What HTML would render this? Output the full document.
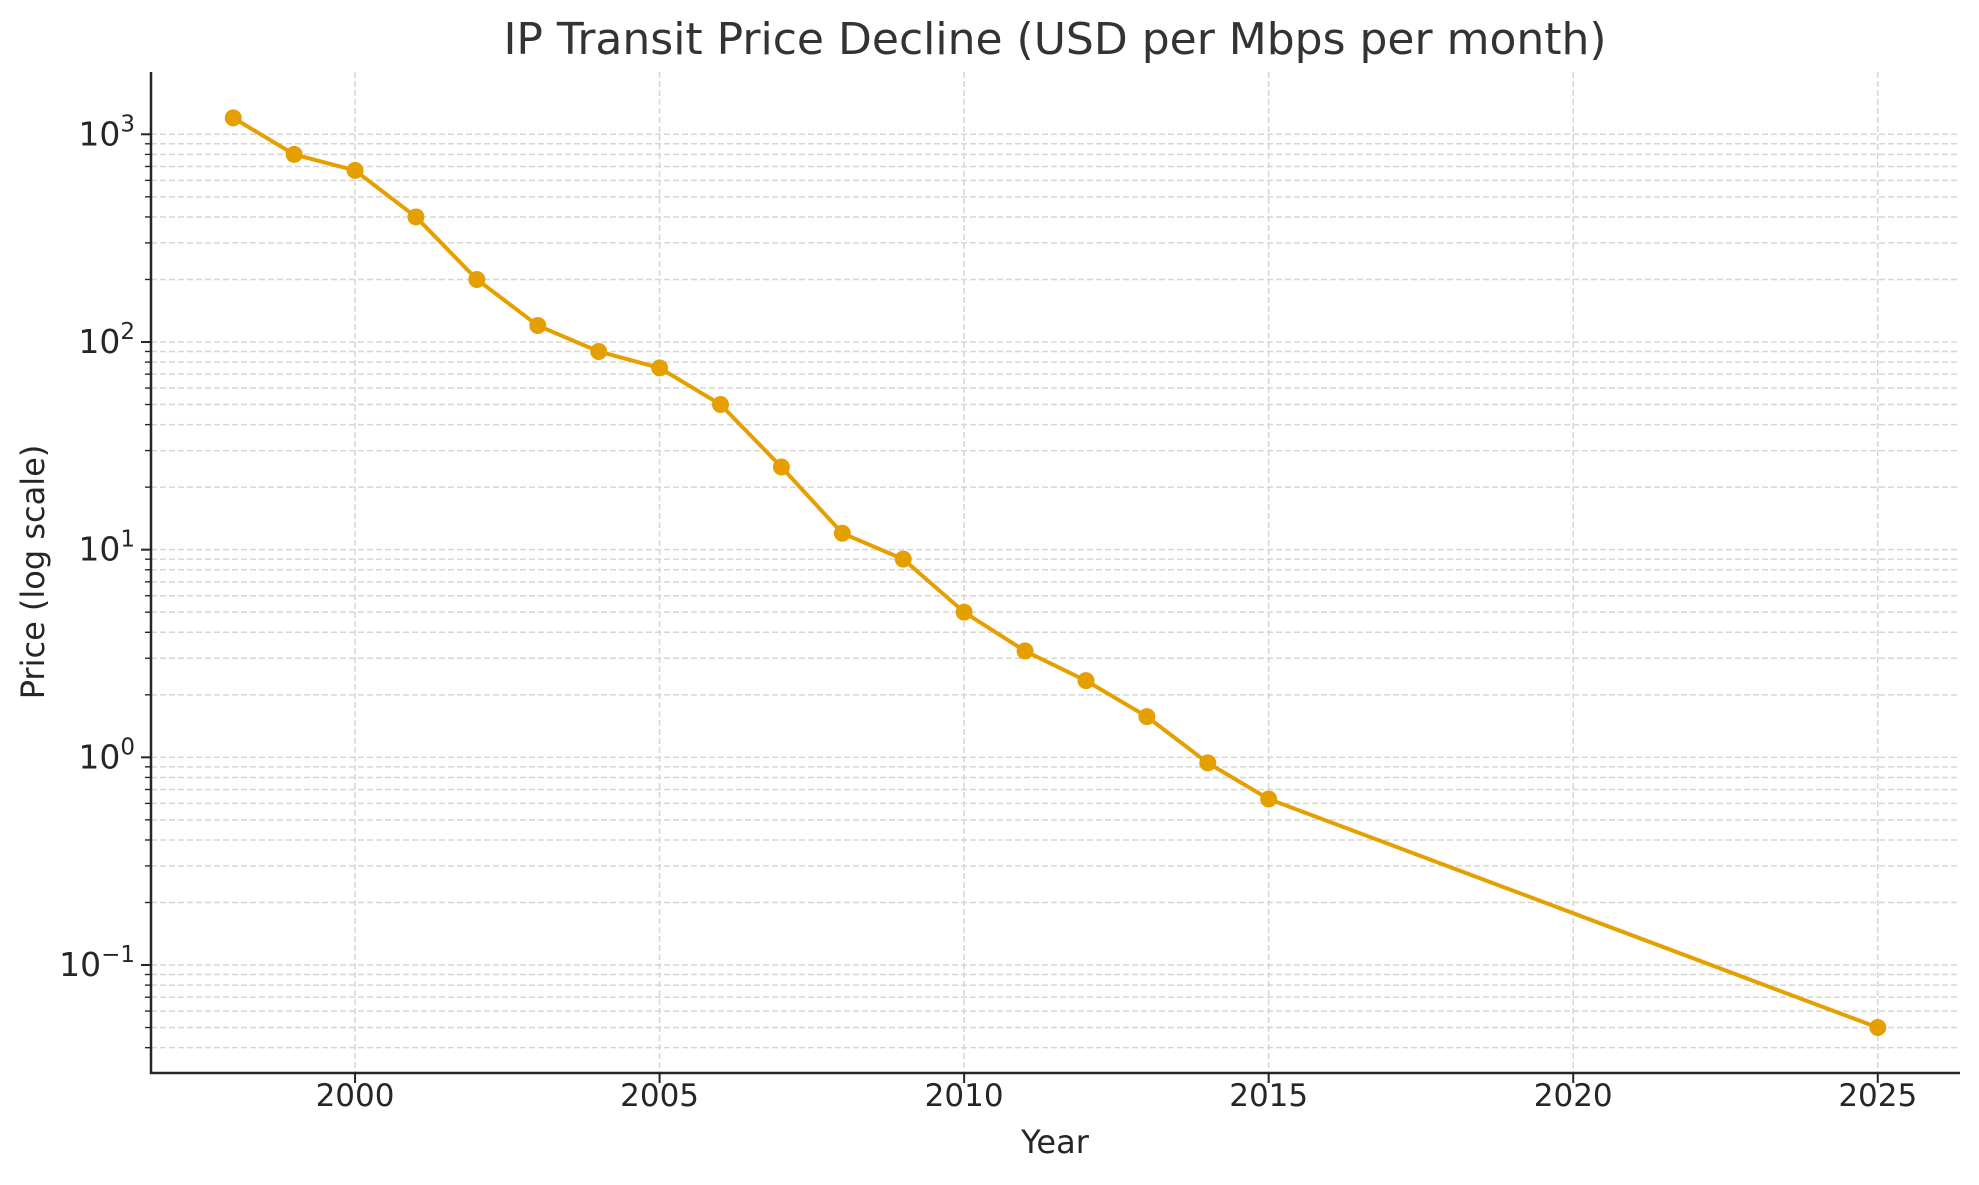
<!DOCTYPE html>
<html><head><meta charset="utf-8"><style>
body{margin:0;background:#fff}
svg text{font-family:"DejaVu Sans","Liberation Sans",sans-serif;fill:#262626}
</style></head><body>
<svg id="chart" width="1979" height="1180" xmlns="http://www.w3.org/2000/svg">
<text x="1055" y="54" font-size="44" text-anchor="middle" style="fill:#333">IP Transit Price Decline (USD per Mbps per month)</text>
<text x="1055" y="1153" font-size="32" text-anchor="middle">Year</text>
<text transform="translate(44,572) rotate(-90)" font-size="32" text-anchor="middle">Price (log scale)</text>
<g id="grid"></g><g id="axes"></g><g id="series"></g>
</svg>
<script>
const years=[1998,1999,2000,2001,2002,2003,2004,2005,2006,2007,2008,2009,2010,2011,2012,2013,2014,2015,2025];
const prices=[1200,800,670,400,200,120,90,75,50,25,12,9,5,3.25,2.34,1.57,0.94,0.63,0.05];
const xTicks=[2000,2005,2010,2015,2020,2025];
const yDecades=[-1,0,1,2,3];
const L=151,R=1960,T=72,B=1073;
const x0=1996.65,x1=2026.35,l0=Math.log10(0.0302),l1=3.30;
const NS='http://www.w3.org/2000/svg';
function X(v){return L+(v-x0)/(x1-x0)*(R-L);}
function Y(v){return B-(Math.log10(v)-l0)/(l1-l0)*(B-T);}
function mk(t,a,p){const e=document.createElementNS(NS,t);for(const k in a)e.setAttribute(k,a[k]);p.appendChild(e);return e;}
const grid=document.getElementById('grid'),axes=document.getElementById('axes'),ser=document.getElementById('series');
for(let d=-2;d<=3;d++){for(let m=1;m<=9;m++){const v=m*Math.pow(10,d);const y=Y(v);if(y<T||y>B)continue;
 const g=mk('line',{x1:L,x2:R,y1:y,y2:y,stroke:'#d6d6d6','stroke-width':1.5,'stroke-dasharray':'6,3'},grid);
 
 
 const t=mk('line',{x1:L-(m==1?10:6),x2:L,y1:y,y2:y,stroke:'#262626','stroke-width':m==1?2:1.4},axes);
 
 
}}
xTicks.forEach(v=>{const x=X(v);
 const g=mk('line',{x1:x,x2:x,y1:T,y2:B,stroke:'#d6d6d6','stroke-width':1.5,'stroke-dasharray':'6,3'},grid);
 
 
 const t=mk('line',{x1:x,x2:x,y1:B,y2:B+10,stroke:'#262626','stroke-width':2},axes);
 
 
 const lb=mk('text',{x:x,y:B+33,'font-size':31,'text-anchor':'middle'},axes);lb.textContent=v;
 
 
});
yDecades.forEach(d=>{const y=Y(Math.pow(10,d));
 const lb=mk('text',{x:L-16,y:y+11,'font-size':33,'text-anchor':'end'},axes);
 lb.innerHTML='10<tspan dy="-14" font-size="23">'+(d<0?'\u2212'+(-d):d)+'</tspan>';
 
 
});
const ax=mk('path',{d:`M${L},${T}V${B}H${R}`,fill:'none',stroke:'#262626','stroke-width':2.5},axes);


const line=mk('polyline',{points:years.map((y,i)=>X(y)+','+Y(prices[i])).join(' '),fill:'none',stroke:'#E69F00','stroke-width':4,'stroke-linejoin':'round'},ser);


years.forEach((y,i)=>{const c=mk('circle',{cx:X(y),cy:Y(prices[i]),r:8.5,fill:'#E69F00'},ser);
 
 
});
</script>
</body></html>
